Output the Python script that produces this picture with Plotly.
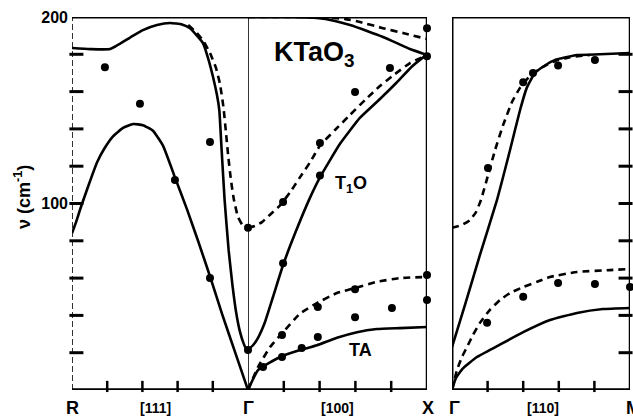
import plotly.graph_objects as go

# ---- Phonon dispersion of KTaO3 (frequency in cm^-1) ----
# R -> Gamma branch, q runs from -1 (R) to 0 (Gamma)
rg_upper_q = [-1.0, -0.898, -0.784, -0.67, -0.597, -0.517, -0.443, -0.375, -0.33, -0.29, -0.256,
              -0.227, -0.199, -0.176, -0.163, -0.15, -0.133, -0.11, -0.088, -0.068, -0.045,
              -0.025, -0.01, 0.0]
rg_upper_v = [183.4, 182.8, 182.8, 189, 193, 195.7, 196.8, 196, 194, 190, 186,
              178, 168, 158, 150, 129, 102, 75, 56, 42, 31,
              25, 22, 21.5]
rg_upper_hot_q = [-0.34, -0.29, -0.25, -0.216, -0.182, -0.159, -0.14, -0.126, -0.113, -0.097,
                  -0.08, -0.057, -0.028, 0.0]
rg_upper_hot_v = [195.7, 191.4, 186.6, 180.7, 172.7, 164, 152, 139, 126, 112.6,
                  102, 92.8, 88, 86.9]
rg_lower_q = [-1.0, -0.977, -0.955, -0.909, -0.858, -0.8125, -0.767, -0.71, -0.653, -0.597,
              -0.54, -0.483, -0.415, -0.347, -0.284, -0.216, -0.148, -0.074, 0.0]
rg_lower_v = [84, 90, 96.5, 109, 122, 130, 136, 140.5, 142.6, 142,
              139, 131, 114, 97, 80, 61, 41, 20.4, 0]
rg_obs_q = [-0.813, -0.614, -0.216, -0.415, -0.216, 0.0, 0.0]
rg_obs_v = [173, 153.5, 133, 112.6, 60, 87, 21.5]

# Gamma -> X branch, q from 0 to 1
gx_top_q = [0.0, 0.235, 0.385, 0.486, 0.57, 0.665, 0.754, 0.832, 0.905, 1.0]
gx_top_v = [200, 200, 199.5, 197.9, 195.7, 192.5, 189.3, 186, 182.8, 179.6]
gx_top_hot_q = [0.0, 0.402, 0.54, 0.626, 0.754, 0.866, 1.0]
gx_top_hot_v = [200, 200, 199, 197.3, 194, 191.4, 188.2]
gx_to_q = [0.0, 0.028, 0.056, 0.095, 0.14, 0.196, 0.263, 0.346, 0.402, 0.514, 0.626, 0.737,
           0.832, 0.916, 1.0]
gx_to_v = [21.5, 24, 28, 36.5, 50, 67, 84, 103, 114, 132, 146, 156,
           165, 173.5, 180]
gx_to_hot_q = [0.0, 0.039, 0.078, 0.123, 0.179, 0.235, 0.29, 0.346, 0.402, 0.486, 0.57,
               0.654, 0.737, 0.821, 0.905, 1.0]
gx_to_hot_v = [87, 88, 90, 94, 99, 106, 114, 122, 131, 139.4, 147.5,
               155.5, 163, 169.4, 175.3, 179.6]
gx_ta_q = [0.0, 0.056, 0.179, 0.291, 0.385, 0.497, 0.609, 0.72, 0.849, 1.0]
gx_ta_v = [0, 10.7, 17.7, 21.4, 24, 28, 31, 32.7, 33.2, 33.8]
gx_ta_hot_q = [0.0, 0.056, 0.123, 0.196, 0.291, 0.385, 0.497, 0.609, 0.72, 0.849, 1.0]
gx_ta_hot_v = [0, 12.3, 23, 31, 41, 46.6, 52, 55, 58, 60, 60.6]
gx_obs_q = [0.196, 0.402, 0.598, 0.793, 1.0, 0.196, 0.402, 1.0,
            0.084, 0.19, 0.19, 0.3, 0.39, 0.39, 0.598, 0.598, 0.804, 1.0, 1.0]
gx_obs_v = [100.8, 132.4, 159.8, 172.6, 194, 68, 115, 179,
            12.3, 17.7, 29.5, 22.5, 44.5, 28.4, 39, 54, 44, 48.3, 61.7]

# Gamma -> M branch, q from 0 to 1
gm_to_q = [0.0, 0.073, 0.157, 0.253, 0.326, 0.382, 0.42, 0.466, 0.522, 0.579, 0.702, 0.831, 1.0]
gm_to_v = [23, 45.6, 72.4, 102, 128.7, 150, 162, 170, 174, 177, 179.6, 180, 180.7]
gm_to_hot_q = [0.0, 0.056, 0.1, 0.135, 0.163, 0.202, 0.242, 0.287, 0.337, 0.382, 0.438,
               0.506, 0.579, 0.663, 0.775]
gm_to_hot_v = [87, 88.5, 91, 95.4, 102, 115, 128.7, 142, 154.4, 162, 168.4,
               173, 176.4, 178.5, 179.6]
gm_ta_q = [0.0, 0.02, 0.06, 0.14, 0.253, 0.4, 0.551, 0.702, 0.848, 1.0]
gm_ta_v = [0, 6, 11.5, 17.7, 23.5, 31, 37.5, 41.3, 43.4, 44]
gm_ta_hot_q = [0.0, 0.028, 0.056, 0.084, 0.118, 0.157, 0.213, 0.27, 0.326, 0.4, 0.478,
               0.55, 0.702, 0.888, 1.0]
gm_ta_hot_v = [0, 10.7, 17.7, 23, 29.5, 36, 43, 48.3, 52, 55.2, 58,
               60.6, 63.3, 64.3, 64.9]
gm_obs_q = [0.202, 0.4, 0.455, 0.596, 0.803, 0.197, 0.4, 0.596, 0.803, 1.0]
gm_obs_v = [119, 165, 170, 174, 177, 36, 50, 57.4, 56.8, 55.2]

# Axis tick positions and labels
y_label_vals = [100, 200]
y_label_text = ["100", "200"]
y_minor = [20, 40, 60, 80, 100, 120, 140, 160, 180]
q_ticks_rg = [-0.8, -0.6, -0.4, -0.2]
q_ticks = [0.2, 0.4, 0.6, 0.8]

INK = "black"
FONT = "Liberation Sans"
W, H = 633, 420
LW = 2.6
DASH = "7px,5px"
TICK_Q = 0.05    # length of a frequency tick, in q units
TICK_V = 3.8     # length of a wave-vector tick, in cm^-1


def curve(q, v, xa, ya="y", dashed=False):
    return go.Scatter(
        x=q, y=v, xaxis=xa, yaxis=ya, mode="lines",
        line=dict(color=INK, width=LW, shape="spline", smoothing=0.4,
                  dash=DASH if dashed else "solid"),
        cliponaxis=False, hoverinfo="skip")


def points(q, v, xa, ya="y"):
    return go.Scatter(
        x=q, y=v, xaxis=xa, yaxis=ya, mode="markers",
        marker=dict(color=INK, size=8), cliponaxis=False, hoverinfo="skip")


def tick_marks(xs, ys, xa, ya, symbol, size, width):
    # short bars drawn as line-type markers, centred half a tick inside the frame
    return go.Scatter(x=xs, y=ys, xaxis=xa, yaxis=ya, mode="markers",
                      marker=dict(symbol=symbol, size=size, color=INK,
                                  line=dict(color=INK, width=width)),
                      cliponaxis=False, hoverinfo="skip")


fig = go.Figure()
# R - Gamma panel
fig.add_trace(curve(rg_upper_q, rg_upper_v, "x"))
fig.add_trace(curve(rg_upper_hot_q, rg_upper_hot_v, "x", dashed=True))
fig.add_trace(curve(rg_lower_q, rg_lower_v, "x"))
fig.add_trace(points(rg_obs_q, rg_obs_v, "x"))
# Gamma - X panel
fig.add_trace(curve(gx_top_q, gx_top_v, "x2"))
fig.add_trace(curve(gx_top_hot_q, gx_top_hot_v, "x2", dashed=True))
fig.add_trace(curve(gx_to_q, gx_to_v, "x2"))
fig.add_trace(curve(gx_to_hot_q, gx_to_hot_v, "x2", dashed=True))
fig.add_trace(curve(gx_ta_q, gx_ta_v, "x2"))
fig.add_trace(curve(gx_ta_hot_q, gx_ta_hot_v, "x2", dashed=True))
fig.add_trace(points(gx_obs_q, gx_obs_v, "x2"))
# Gamma - M panel
fig.add_trace(curve(gm_to_q, gm_to_v, "x3", "y2"))
fig.add_trace(curve(gm_to_hot_q, gm_to_hot_v, "x3", "y2", dashed=True))
fig.add_trace(curve(gm_ta_q, gm_ta_v, "x3", "y2"))
fig.add_trace(curve(gm_ta_hot_q, gm_ta_hot_v, "x3", "y2", dashed=True))
fig.add_trace(points(gm_obs_q, gm_obs_v, "x3", "y2"))

# Inward tick marks: frequency ticks on the R edge and on the M edge
fig.add_trace(tick_marks([-1 + TICK_Q / 2] * len(y_minor), y_minor, "x", "y",
                         "line-ew-open", 10, 3))
fig.add_trace(tick_marks([1 - TICK_Q / 2] * len(y_minor), y_minor, "x3", "y2",
                         "line-ew-open", 10, 3))
# wave-vector ticks along the bottom edges
for xa, ya, vals in (("x", "y", q_ticks_rg), ("x2", "y", q_ticks), ("x3", "y2", q_ticks)):
    fig.add_trace(tick_marks(vals, [TICK_V / 2] * len(vals), xa, ya, "line-ns-open", 8, 2.5))

x_r, x_g, x_x = 72 / W, 248 / W, 427 / W
x_g2, x_m = 452 / W, 630 / W
y_dom = [30 / H, 403 / H]

xcommon = dict(showgrid=False, zeroline=False, showline=False, ticks="",
               showticklabels=False, fixedrange=True)
ycommon = dict(range=[0, 200], domain=y_dom, showgrid=False, zeroline=False,
               showline=False, ticks="", fixedrange=True)

fig.update_layout(
    width=W, height=H, margin=dict(l=0, r=0, t=0, b=0, autoexpand=False),
    paper_bgcolor="white", plot_bgcolor="rgba(0,0,0,0)", showlegend=False,
    xaxis=dict(domain=[x_r, x_g], range=[-1, 0], anchor="y", **xcommon),
    xaxis2=dict(domain=[x_g, x_x], range=[0, 1], anchor="y", **xcommon),
    xaxis3=dict(domain=[x_g2, x_m], range=[0, 1], anchor="y2", **xcommon),
    yaxis=dict(anchor="x", tickvals=y_label_vals, ticktext=y_label_text,
               ticklabelstandoff=3,
               tickfont=dict(family=FONT, size=16, color=INK, weight="bold"), **ycommon),
    yaxis2=dict(anchor="x3", side="right", showticklabels=False, **ycommon),
)

# Frame lines
shapes = [
    dict(type="line", xref="paper", yref="y", x0=x_r, x1=x_x, y0=200, y1=200,
         line=dict(color=INK, width=3)),
    dict(type="line", xref="paper", yref="y", x0=x_r, x1=x_x, y0=0, y1=0,
         line=dict(color=INK, width=3.5)),
    dict(type="line", xref="x", yref="y", x0=-1, x1=-1, y0=0, y1=200,
         line=dict(color=INK, width=1.6, dash="6px,3px")),
    dict(type="line", xref="x2", yref="y", x0=0, x1=0, y0=0, y1=200,
         line=dict(color=INK, width=1.6)),
    dict(type="line", xref="x2", yref="y", x0=1, x1=1, y0=0, y1=200,
         line=dict(color=INK, width=2.5)),
    dict(type="line", xref="x3", yref="y2", x0=0, x1=1, y0=200, y1=200,
         line=dict(color=INK, width=3)),
    dict(type="line", xref="x3", yref="y2", x0=0, x1=1, y0=0, y1=0,
         line=dict(color=INK, width=3.5)),
    dict(type="line", xref="x3", yref="y2", x0=0, x1=0, y0=0, y1=200,
         line=dict(color=INK, width=3)),
    dict(type="line", xref="x3", yref="y2", x0=1, x1=1, y0=0, y1=200,
         line=dict(color=INK, width=2.5)),
]
fig.update_layout(shapes=shapes)

bold = dict(family=FONT, color=INK, weight="bold")


def label(xp, yp, text, size, angle=0):
    return dict(x=xp / W, y=1 - yp / H, xref="paper", yref="paper", text=text,
                showarrow=False, xanchor="center", yanchor="middle", textangle=angle,
                font=dict(size=size, **bold))


annotations = [
    label(72, 408, "R", 18),
    label(155, 408, "[111]", 14),
    label(248, 408, "Γ", 18),
    label(337, 408, "[100]", 14),
    label(428, 408, "X", 18),
    label(455, 408, "Γ", 18),
    label(543, 408, "[110]", 14),
    label(633, 408, "M", 18),
    label(22, 197, "ν (cm<sup>-1</sup>)", 18, -90),
    label(314, 54, "KTaO<sub>3</sub>", 27),
    label(351, 184, "T<sub>1</sub>O", 18),
    label(360, 350, "TA", 18),
]
fig.update_layout(annotations=annotations)

fig.write_html("out.html")
